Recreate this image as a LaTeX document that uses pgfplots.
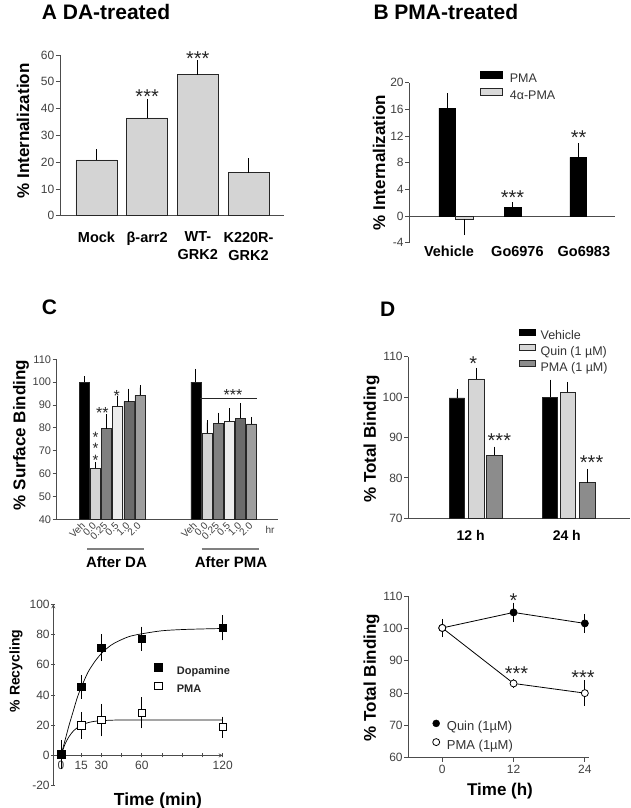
\documentclass[border=0pt]{standalone}
\usepackage{fontspec}
\setmainfont{Liberation Sans}
\usepackage{pgfplots}
\pgfplotsset{compat=1.18}

\definecolor{axgray}{gray}{0.3}
\definecolor{tickgray}{gray}{0.25}
\definecolor{barA}{gray}{0.83}
\definecolor{barB}{gray}{0.85}
\definecolor{c00}{gray}{0.83}
\definecolor{c025}{gray}{0.5}
\definecolor{c05}{gray}{0.93}
\definecolor{c10}{gray}{0.42}
\definecolor{c20}{gray}{0.62}
\definecolor{quin}{gray}{0.84}
\definecolor{pmag}{gray}{0.55}

\newcommand{\fs}[1]{\fontsize{#1}{#1}\selectfont}

\tikzset{star/.style={font=\fs{20}, anchor=base, inner sep=0pt, text=black!85}}

\pgfplotsset{
  panel/.style={
    scale only axis, anchor=south west, clip=false,
    axis lines=left, axis line style={-, line width=0.8pt, draw=axgray},
    tick style={line width=0.8pt, draw=axgray}, tick align=outside,
    major tick length=4pt,
    ticklabel style={font=\fs{12}, text=tickgray},
    /pgf/number format/assume math mode=true,
    yticklabel style={inner sep=1.5pt},
  },
  errs/.style={/pgfplots/error bars/y dir=plus, /pgfplots/error bars/y explicit,
    /pgfplots/error bars/error bar style={line width=0.8pt, black},
    /pgfplots/error bars/error mark options={line width=0.8pt, black, mark size=#1}},
  errb/.style={/pgfplots/error bars/y dir=both, /pgfplots/error bars/y explicit,
    /pgfplots/error bars/error bar style={line width=0.8pt, black},
    /pgfplots/error bars/error mark options={line width=0.8pt, black, mark size=#1}},
  errm/.style={/pgfplots/error bars/y dir=minus, /pgfplots/error bars/y explicit,
    /pgfplots/error bars/error bar style={line width=0.8pt, black},
    /pgfplots/error bars/error mark options={line width=0.8pt, black, mark size=#1}},
}

\begin{document}
\begin{tikzpicture}
\useasboundingbox (0,0) rectangle (630pt,808pt);

% ---------- A: DA-treated ----------
\begin{axis}[panel, at={(60pt,592.3pt)}, width=224pt, height=160.7pt,
  xmin=0.28, xmax=4.70, ymin=0, ymax=60, ytick={0,10,...,60},
  xtick={1,2,3,4}, xticklabels={Mock,β-arr2,{WT-\\GRK2},{K220R-\\GRK2}},
  xtick style={draw=none},
  xticklabel style={font=\bfseries\fontsize{14.5}{18}\selectfont, text=black,
    align=center, anchor=north, inner sep=0pt, yshift=-12pt}]
\addplot[ybar, bar width=41pt, fill=barA, draw=black!85, line width=0.8pt, errs=3.5pt]
  coordinates {(1,20.8) +- (0,2.7) (2,36.5) +- (0,5.8) (3,52.7) +- (0,4.0) (4,16.0) +- (0,4.2)};
\node[star] at (axis cs:2,41.8) {***};
\node[star] at (axis cs:3,56.2) {***};
\end{axis}

% ---------- B: PMA-treated ----------
\begin{axis}[panel, at={(409.3pt,565.3pt)}, width=205.7pt, height=160pt,
  xmin=0.424, xmax=3.565, ymin=-4, ymax=20, ytick={-4,0,...,20},
  x axis line style={draw=none},
  xtick={1.03,2.075,3.09}, xticklabels={Vehicle,Go6976,Go6983},
  xtick style={draw=none},
  xticklabel style={font=\bfseries\fs{14.5}, text=black, anchor=north, inner sep=0pt, yshift=1pt},
  legend cell align=left,
  legend image code/.code={\path[draw=none, fill=none] (0pt,0pt) rectangle (29.3pt,0pt); \draw[#1] (0pt,1pt) rectangle (22pt,8pt);},
  legend style={at={(0.3437,1.0719)}, anchor=north west, draw=none, fill=none,
    inner sep=0pt, row sep=2.3pt, font=\fs{12.5},
    nodes={inner sep=0pt, text height=9pt, text depth=3pt, text=black!80}}]
\draw[axgray, line width=0.8pt] (axis cs:0.424,0) -- (axis cs:3.565,0);
\addplot[ybar, bar width=16.5pt, fill=black, draw=black, forget plot, errs=3pt]
  coordinates {(1,16.2) +- (0,1.8) (2,1.3) +- (0,0.3) (3,8.8) +- (0,1.7)};
\addplot[ybar, bar width=18pt, fill=barB, draw=black!85, line width=0.8pt, forget plot, errm=3pt]
  coordinates {(1.265,-0.5) +- (0,1.9)};
\addlegendimage{fill=black, draw=black}
\addlegendentry{PMA}
\addlegendimage{fill=barB, draw=black!85, line width=0.8pt}
\addlegendentry{4α-PMA}
\node[star] at (axis cs:2,1.8) {***};
\node[star] at (axis cs:3.01,10.7) {**};
\end{axis}

% ---------- C: surface binding ----------
\begin{axis}[panel, at={(56.7pt,288.7pt)}, width=221.6pt, height=160pt,
  xmin=-2.46, xmax=17.39, ymin=40, ymax=110, ytick={40,50,...,110},
  yticklabel style={font=\fs{11}},
  xtick={0,1,2,3,4,5,10,11,12,13,14,15},
  xticklabels={Veh,0.0,0.25,0.5,1.0,2.0,Veh,0.0,0.25,0.5,1.0,2.0},
  xtick style={draw=none},
  xticklabel style={rotate=45, anchor=east, font=\fs{10}, inner sep=1pt}]
\pgfplotsset{cbar/.style={ybar, bar width=10pt, draw=black!85, line width=0.6pt, errs=2.5pt}}
\addplot[cbar, fill=black] coordinates {(0,100) +- (0,1.5) (10,100) +- (0,4.7)};
\addplot[cbar, fill=c00] coordinates {(1,62.3) +- (0,1.7) (11,77.6) +- (0,4.7)};
\addplot[cbar, fill=c025] coordinates {(2,79.7) +- (0,5.2) (12,82.1) +- (0,3.5)};
\addplot[cbar, fill=c05] coordinates {(3,89.4) +- (0,3.5) (13,83.0) +- (0,4.4)};
\addplot[cbar, fill=c10] coordinates {(4,91.5) +- (0,4.6) (14,84.2) +- (0,5.4)};
\addplot[cbar, fill=c20] coordinates {(5,94.25) +- (0,3.35) (15,81.7) +- (0,2.05)};
\tikzset{cstar/.style={star, font=\fs{16}}}
\node[star, font=\fontsize{15}{7.5}\selectfont, align=center, anchor=south] at (axis cs:1.03,63.6) {*\\*\\*};
\node[cstar] at (axis cs:1.64,84.1) {**};
\node[cstar] at (axis cs:2.91,91.6) {*};
\node[cstar] at (axis cs:13.33,92.0) {***};
\draw[black!85, line width=0.8pt] (axis cs:10.38,92.9) -- (axis cs:15.46,92.9);
\end{axis}

% ---------- D: total binding bars ----------
\begin{axis}[panel, at={(408.3pt,289.7pt)}, width=221.7pt, height=161.6pt,
  xmin=0.253, xmax=2.68, ymin=70, ymax=110, ytick={70,80,...,110},
  xtick={0.936,1.988}, xticklabels={12 h,24 h}, xtick style={draw=none},
  xticklabel style={font=\bfseries\fs{14}, text=black, anchor=north, inner sep=0pt, yshift=-8pt},
  legend cell align=left,
  legend image code/.code={\path[draw=none, fill=none] (0pt,0pt) rectangle (21.7pt,0pt); \draw[#1] (0pt,1.5pt) rectangle (16pt,7.5pt);},
  legend style={at={(0.4962,1.1745)}, anchor=north west, draw=none, fill=none,
    inner sep=0pt, row sep=2pt, font=\fs{12.5},
    nodes={inner sep=0pt, text height=9pt, text depth=3pt, text=black!80}}]
\pgfplotsset{dbar/.style={ybar, bar width=15.5pt, draw=black!85, line width=0.8pt, errs=3pt}}
\addplot[forget plot, dbar, fill=black] coordinates {(0.786,99.8) +- (0,1.4) (1.805,100) +- (0,3.6)};
\addplot[forget plot, dbar, fill=quin] coordinates {(1,104.5) +- (0,2.0) (2,101.2) +- (0,1.8)};
\addplot[forget plot, dbar, fill=pmag] coordinates {(1.194,85.6) +- (0,1.4) (2.212,78.8) +- (0,2.7)};
\addlegendimage{fill=black, draw=black}
\addlegendentry{Vehicle}
\addlegendimage{fill=quin, draw=black!85, line width=0.8pt}
\addlegendentry{Quin (1 µM)}
\addlegendimage{fill=pmag, draw=black!85, line width=0.8pt}
\addlegendentry{PMA (1 µM)}
\node[star] at (axis cs:0.965,106.7) {*};
\node[star] at (axis cs:1.25,87.5) {***};
\node[star] at (axis cs:2.26,82.1) {***};
\end{axis}

% ---------- E: recycling ----------
\begin{axis}[panel, at={(53.3pt,22.3pt)}, width=169.4pt, height=181.4pt,
  axis x line=middle, axis y line=left,
  xmin=-5.7, xmax=120, ymin=-20, ymax=100, ytick={-20,0,...,100},
  xtick={0,15,...,120}, xticklabels={0,15,30,,60,,,,120},
  legend cell align=left,
  legend image code/.code={\path[draw=none, fill=none] (0pt,0pt) rectangle (22.5pt,0pt); \draw[#1] plot coordinates {(3.8pt,4pt)};},
  legend style={at={(0.5956,0.6748)}, anchor=north west, draw=none, fill=none,
    inner sep=0pt, row sep=4.7pt, font=\bfseries\fs{11},
    nodes={inner sep=0pt, text height=9pt, text depth=3pt, text=black!85}}]
\addplot[forget plot, black, line width=0.7pt, smooth, no marks] coordinates {
  (0,0) (3,7.5) (6,12.5) (9,16) (12,18.3) (15,20) (20,21.7) (25,22.6)
  (30,23) (40,23.4) (60,23.5) (90,23.5) (120,23.5)};
\addplot[forget plot, black, line width=0.7pt, smooth, no marks] coordinates {
  (0,0) (3,10) (6,20) (9,29) (12,38) (15,45) (20,55) (25,62) (30,67.5)
  (35,71.5) (40,74.5) (50,78.5) (60,80.5) (75,82.5) (90,83.3) (105,83.7) (120,84)};
\addplot[forget plot, only marks, mark=square*, mark size=3.8pt,
  mark options={fill=white, draw=black, line width=0.8pt}, errb=3.5pt] coordinates {
  (0,0.3) +- (0,6) (15,19.9) +- (0,6.6) (30,23.4) +- (0,8.4) (60,28.2) +- (0,8) (120,18.8) +- (0,4.6)};
\addplot[forget plot, only marks, mark=square*, mark size=3.8pt,
  mark options={fill=black, draw=black}, errb=3.5pt] coordinates {
  (0,0.7) +- (0,7.2) (15,45.4) +- (0,5.5) (30,71.3) +- (0,6.6) (60,77.2) +- (0,5.7) (120,84.5) +- (0,6)};
\addlegendimage{only marks, mark=square*, mark size=3.8pt, mark options={fill=black, draw=black}}
\addlegendentry{Dopamine}
\addlegendimage{only marks, mark=square*, mark size=3.8pt, mark options={fill=white, draw=black, line width=0.8pt}}
\addlegendentry{PMA}
\end{axis}

% ---------- F: total binding time course ----------
\begin{axis}[panel, at={(408.3pt,50.3pt)}, width=180.7pt, height=161.4pt,
  xmin=-5.72, xmax=24.7, ymin=60, ymax=110, ytick={60,70,...,110},
  xtick={0,12,24},
  legend cell align=left,
  legend image code/.code={\path[draw=none, fill=none] (0pt,0pt) rectangle (14.2pt,0pt); \draw[#1] plot coordinates {(3.5pt,4.5pt)};},
  legend style={at={(0.1339,0.2354)}, anchor=north west, draw=none, fill=none,
    inner sep=0pt, row sep=4.7pt, font=\fs{13},
    nodes={inner sep=0pt, text height=9pt, text depth=3pt, text=black!80}}]
\addplot[forget plot, black, line width=0.8pt, mark=*, mark size=3.5pt, mark options={fill=black},
  errb=3pt] coordinates {(0,100.2) +- (0,1.8) (12,105) +- (0,2.1) (24,101.6) +- (0,2)};
\addplot[forget plot, black, line width=0.8pt, mark=*, mark size=3.5pt, mark options={fill=white},
  errb=3pt] coordinates {(0,100.2) +- (0,1.9) (12,83) +- (0,0.5) (24,80) +- (0,3)};
\addlegendimage{only marks, mark=*, mark size=3.5pt, mark options={fill=black, draw=black}}
\addlegendentry{Quin (1µM)}
\addlegendimage{only marks, mark=*, mark size=3.5pt, mark options={fill=white, draw=black, line width=0.8pt}}
\addlegendentry{PMA (1µM)}
\node[star] at (axis cs:12,106.6) {*};
\node[star] at (axis cs:12.5,83.8) {***};
\node[star] at (axis cs:23.7,82.6) {***};
\end{axis}

% ---------- titles and axis titles ----------
\tikzset{ttl/.style={font=\bfseries\fs{21}, anchor=base west, inner sep=0pt},
  ylab/.style={font=\bfseries\fs{17}, rotate=90, anchor=center, inner sep=0pt}}
\node[ttl] at (41.7pt,788pt) {A DA-treated};
\node[ttl] at (373.3pt,788pt) {B PMA-treated};
\node[ttl] at (41.7pt,493pt) {C};
\node[ttl] at (380pt,491.3pt) {D};

\node[ylab] at (23pt,677pt) {\% Internalization};
\node[ylab] at (379pt,645.5pt) {\% Internalization};
\node[ylab] at (21pt,373pt) {\% Surface Binding};
\node[ylab] at (371.5pt,369pt) {\% Total Binding};
\node[ylab, font=\bfseries\fs{14}] at (16pt,137pt) {\% Recycling};
\node[ylab] at (371.5pt,130.5pt) {\% Total Binding};

\node[font=\bfseries\fs{17.5}, anchor=base, inner sep=0pt] at (158pt,2.8pt) {Time (min)};
\node[font=\bfseries\fs{17}, anchor=base, inner sep=0pt] at (500pt,12.5pt) {Time (h)};

% group underlines in C
\draw[gray, line width=1.3pt] (87pt,259pt) -- (144pt,259pt);
\draw[gray, line width=1.3pt] (201.7pt,259pt) -- (259pt,259pt);
\node[font=\bfseries\fs{15}, anchor=base, inner sep=0pt] at (116.5pt,240.7pt) {After DA};
\node[font=\bfseries\fs{15}, anchor=base, inner sep=0pt] at (231pt,240.7pt) {After PMA};
\node[font=\fs{10}, anchor=base, inner sep=0pt, text=tickgray] at (270pt,274pt) {hr};
\end{tikzpicture}
\end{document}
